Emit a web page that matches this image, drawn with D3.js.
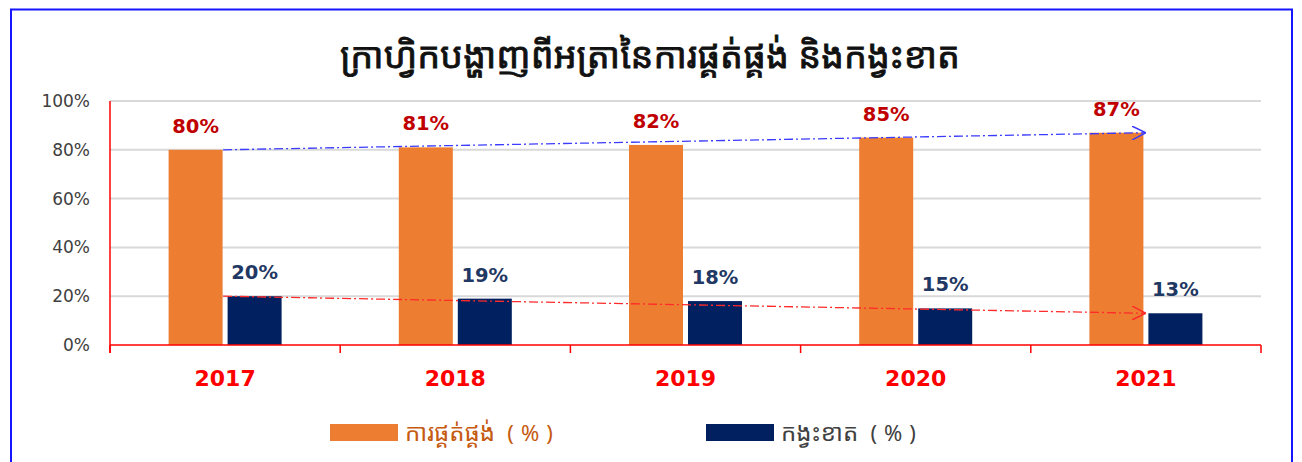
<!DOCTYPE html>
<html>
<head>
<meta charset="utf-8">
<script src="https://cdn.jsdelivr.net/npm/d3@7"></script>
<style>
  html, body { margin: 0; padding: 0; background: #fff; }
  svg { display: block; }
</style>
</head>
<body>
<svg id="chart" width="1302" height="462"></svg>
<script>
const years = ["2017", "2018", "2019", "2020", "2021"];
const supply = [80, 81, 82, 85, 87];
const shortage = [20, 19, 18, 15, 13];
const yTicks = [0, 20, 40, 60, 80, 100];
const titleText = "ក្រាហ្វិកបង្ហាញពីអត្រានៃការផ្គត់ផ្គង់ និងកង្វះខាត";
const seriesNames = ["ការផ្គត់ផ្គង់", "កង្វះខាត"];
const unitText = "(%)";

const W = 1302, H = 462;
const margin = { left: 110, right: 41, top: 101, bottom: 117 };
const svg = d3.select("#chart");

const khmerFont = "'Noto Sans Khmer', 'Khmer OS', 'DejaVu Sans', sans-serif";
const numFont = "'DejaVu Sans', Verdana, sans-serif";

// frame
svg.append("path")
  .attr("d", `M11,${H} L11,9.5 L1292,9.5 L1292,${H}`)
  .attr("fill", "none").attr("stroke", "#1515ff").attr("stroke-width", 2);

const x = d3.scaleBand().domain(years).range([margin.left, W - margin.right]);
const y = d3.scaleLinear().domain([0, 100]).range([H - margin.bottom, margin.top]);

// title
svg.append("text")
  .attr("x", 650).attr("y", 68)
  .attr("text-anchor", "middle")
  .attr("font-family", khmerFont)
  .attr("font-size", 35)
  .attr("fill", "#111")
  .attr("stroke", "#111").attr("stroke-width", 0.8)
  .attr("textLength", 620).attr("lengthAdjust", "spacingAndGlyphs")
  .text(titleText);

// gridlines
svg.append("g").selectAll("line").data(yTicks.filter(d => d > 0)).join("line")
  .attr("x1", margin.left).attr("x2", W - margin.right)
  .attr("y1", d => y(d)).attr("y2", d => y(d))
  .attr("stroke", "#d9d9d9").attr("stroke-width", 2);

// y axis
const yAxis = svg.append("g")
  .attr("transform", `translate(${margin.left},0)`)
  .call(d3.axisLeft(y).tickValues(yTicks).tickFormat(d => d + "%").tickSize(0).tickPadding(20));
yAxis.select(".domain").attr("stroke", "#ff0000").attr("stroke-width", 1.5)
  .attr("d", `M0,${y(100)}V${y(0) + 8}`);
yAxis.selectAll("text").attr("font-family", numFont).attr("font-size", 17).attr("fill", "#404040");

// bars
const barW = 54, gap = 5;
const c = d => x(d) + x.bandwidth() / 2;
svg.append("g").selectAll("rect").data(years).join("rect")
  .attr("x", (d) => c(d) - gap / 2 - barW)
  .attr("width", barW)
  .attr("y", (d, i) => y(supply[i]))
  .attr("height", (d, i) => y(0) - y(supply[i]))
  .attr("fill", "#ed7d31");
svg.append("g").selectAll("rect").data(years).join("rect")
  .attr("x", (d) => c(d) + gap / 2)
  .attr("width", barW)
  .attr("y", (d, i) => y(shortage[i]))
  .attr("height", (d, i) => y(0) - y(shortage[i]))
  .attr("fill", "#002060");

// x axis
const xAxis = svg.append("g")
  .attr("transform", `translate(0,${y(0)})`)
  .call(d3.axisBottom(x).tickSize(0).tickPadding(25));
xAxis.select(".domain").attr("stroke", "#ff0000").attr("stroke-width", 1.5)
  .attr("d", `M${margin.left},0H${W - margin.right}`);
xAxis.selectAll("text").attr("font-family", numFont).attr("font-weight", "bold")
  .attr("font-size", 22).attr("fill", "#ff0000");
const bounds = years.map(d => x(d)).concat([x(years[years.length - 1]) + x.bandwidth()]);
xAxis.append("g").selectAll("line").data(bounds).join("line")
  .attr("x1", d => d).attr("x2", d => d).attr("y1", 0).attr("y2", 8)
  .attr("stroke", "#ff0000").attr("stroke-width", 1.5);

// trend lines
const defs = svg.append("defs");
function marker(id, color) {
  defs.append("marker").attr("id", id)
    .attr("viewBox", "0 0 12 12").attr("refX", 12).attr("refY", 6)
    .attr("markerWidth", 14).attr("markerHeight", 14).attr("markerUnits", "userSpaceOnUse")
    .attr("orient", "auto")
    .append("path").attr("d", "M0,0 L12,6 L0,12").attr("fill", "none")
    .attr("stroke", color).attr("stroke-width", 1.3);
}
marker("arrB", "#3b3bff");
marker("arrR", "#ff2a2a");
const first = 0, last = years.length - 1;
const line = d3.line();
svg.append("path")
  .attr("d", line([[c(years[first]) - 2, y(supply[first])], [c(years[last]), y(supply[last])]]))
  .attr("fill", "none").attr("stroke", "#3b3bff").attr("stroke-width", 1.3)
  .attr("stroke-dasharray", "9 3 2 3").attr("marker-end", "url(#arrB)");
svg.append("path")
  .attr("d", line([[c(years[first]) - 2, y(shortage[first])], [c(years[last]), y(shortage[last])]]))
  .attr("fill", "none").attr("stroke", "#ff2a2a").attr("stroke-width", 1.3)
  .attr("stroke-dasharray", "9 3 2 3").attr("marker-end", "url(#arrR)");

// data labels
svg.append("g").selectAll("text").data(years).join("text")
  .attr("x", d => c(d) - gap / 2 - barW / 2)
  .attr("y", (d, i) => y(supply[i]) - 17)
  .attr("text-anchor", "middle")
  .attr("font-family", numFont).attr("font-weight", "bold").attr("font-size", 19.5)
  .attr("fill", "#c00000")
  .text((d, i) => supply[i] + "%");
svg.append("g").selectAll("text").data(years).join("text")
  .attr("x", d => c(d) + gap / 2 + barW / 2)
  .attr("y", (d, i) => y(shortage[i]) - 17)
  .attr("text-anchor", "middle")
  .attr("font-family", numFont).attr("font-weight", "bold").attr("font-size", 19.5)
  .attr("fill", "#1f3864")
  .text((d, i) => shortage[i] + "%");

// legend
const legend = [
  { name: seriesNames[0], color: "#ed7d31", text: "#c55a11", x: 330 },
  { name: seriesNames[1], color: "#002060", text: "#404040", x: 706 }
];
const lg = svg.append("g").selectAll("g").data(legend).join("g")
  .attr("transform", d => `translate(${d.x},424)`);
lg.append("rect").attr("width", 68).attr("height", 17).attr("fill", d => d.color);
const lt = lg.append("text").attr("x", 75).attr("y", 17)
  .attr("font-family", khmerFont).attr("font-size", 24)
  .attr("fill", d => d.text);
lt.append("tspan").text(d => d.name + " ");
lt.append("tspan").attr("dx", 6).attr("letter-spacing", 7).attr("font-size", 22).text(unitText);
</script>
</body>
</html>
